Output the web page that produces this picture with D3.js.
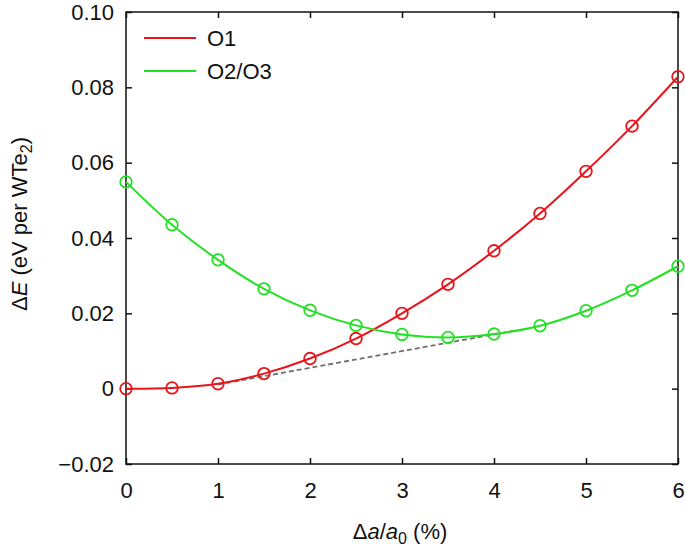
<!DOCTYPE html>
<html>
<head>
<meta charset="utf-8">
<script src="https://cdn.jsdelivr.net/npm/d3@7"></script>
<style>
  html, body { margin: 0; padding: 0; background: #fff; overflow: hidden; }
  svg { display: block; }
  text { font-family: "Liberation Sans", Arial, sans-serif; fill: #111; }
</style>
</head>
<body>
<svg></svg>
<script>
const strain = [0, 0.5, 1, 1.5, 2, 2.5, 3, 3.5, 4, 4.5, 5, 5.5, 6];
const o1 = [0.0000, 0.0002, 0.0013, 0.0040, 0.0080, 0.0133, 0.0200, 0.0277, 0.0366, 0.0465, 0.0577, 0.0697, 0.0828];
const o23 = [0.0549, 0.0435, 0.0342, 0.0265, 0.0208, 0.0168, 0.0144, 0.0136, 0.0145, 0.0167, 0.0207, 0.0261, 0.0325];
// common tangent (dashed)
const tangentX = [1, 4.2];
const tangentY = [0.0011, 0.0153];

const xTicks = [0, 1, 2, 3, 4, 5, 6];
const yTicks = [-0.02, 0, 0.02, 0.04, 0.06, 0.08, 0.10];
const yTickLabels = ['\u22120.02', '0', '0.02', '0.04', '0.06', '0.08', '0.10'];

const width = 685, height = 551;
const margin = {top: 12, right: 7, bottom: 87, left: 126};
const innerWidth = width - margin.left - margin.right;
const innerHeight = height - margin.top - margin.bottom;
const fontSize = '22px';

const svg = d3.select('svg')
  .attr('width', width)
  .attr('height', height);

const xScale = d3.scaleLinear().domain([0, 6]).range([0, innerWidth]);
const yScale = d3.scaleLinear().domain([-0.02, 0.10]).range([innerHeight, 0]);

const g = svg.append('g')
  .attr('transform', `translate(${margin.left}, ${margin.top})`);

// axes: ticks inward, mirrored on top/right (no labels there)
const tick = 6;
g.append('g')
  .attr('transform', `translate(0, ${innerHeight})`)
  .call(d3.axisBottom(xScale).tickValues(xTicks).tickSize(-tick).tickPadding(18).tickFormat(d3.format('d')))
  .call(a => a.select('.domain').remove());
g.append('g')
  .call(d3.axisTop(xScale).tickValues(xTicks).tickSize(-tick))
  .call(a => a.select('.domain').remove())
  .call(a => a.selectAll('text').remove());
g.append('g')
  .call(d3.axisLeft(yScale).tickValues(yTicks).tickSize(-tick).tickPadding(12)
    .tickFormat((d, i) => yTickLabels[i]))
  .call(a => a.select('.domain').remove());
g.append('g')
  .attr('transform', `translate(${innerWidth}, 0)`)
  .call(d3.axisRight(yScale).tickValues(yTicks).tickSize(-tick))
  .call(a => a.select('.domain').remove())
  .call(a => a.selectAll('text').remove());

g.selectAll('.tick line').attr('stroke', '#111').attr('stroke-width', 1.5);
g.selectAll('.tick text')
  .style('font-family', '"Liberation Sans", Arial, sans-serif')
  .style('font-size', fontSize)
  .attr('fill', '#111');

g.append('rect')
  .attr('width', innerWidth)
  .attr('height', innerHeight)
  .attr('fill', 'none')
  .attr('stroke', '#111')
  .attr('stroke-width', 1.5);

// dashed tangent
g.append('line')
  .attr('x1', xScale(tangentX[0])).attr('y1', yScale(tangentY[0]))
  .attr('x2', xScale(tangentX[1])).attr('y2', yScale(tangentY[1]))
  .attr('stroke', '#6e6e6e')
  .attr('stroke-width', 1.8)
  .attr('stroke-dasharray', '5,3');

const series = [
  {name: 'O1', values: o1, color: '#e8141a'},
  {name: 'O2/O3', values: o23, color: '#22e022'}
];

const line = d3.line()
  .x((d, i) => xScale(strain[i]))
  .y(d => yScale(d))
  .curve(d3.curveCatmullRom);

series.forEach(s => {
  g.append('path')
    .datum(s.values)
    .attr('d', line)
    .attr('fill', 'none')
    .attr('stroke', s.color)
    .attr('stroke-width', 2);

  g.selectAll(null).data(s.values)
    .enter().append('circle')
    .attr('cx', (d, i) => xScale(strain[i]))
    .attr('cy', d => yScale(d))
    .attr('r', 5.8)
    .attr('fill', 'none')
    .attr('stroke', s.color)
    .attr('stroke-width', 1.8);
});

// legend
const legend = g.append('g').attr('transform', 'translate(18, 26)');
series.forEach((s, i) => {
  const row = legend.append('g').attr('transform', `translate(0, ${i * 33})`);
  row.append('line')
    .attr('x1', 0).attr('x2', 52)
    .attr('stroke', s.color).attr('stroke-width', 2);
  row.append('text')
    .attr('x', 63).attr('y', 8)
    .style('font-size', fontSize)
    .text(s.name);
});

// axis titles
const xt = svg.append('text')
  .attr('x', margin.left + innerWidth / 2 - 2)
  .attr('y', 539)
  .attr('text-anchor', 'middle')
  .style('font-size', fontSize);
xt.append('tspan').text('\u0394');
xt.append('tspan').style('font-style', 'italic').text('a');
xt.append('tspan').text('/');
xt.append('tspan').style('font-style', 'italic').text('a');
xt.append('tspan').attr('dy', 5).style('font-size', '16px').text('0');
xt.append('tspan').attr('dy', -5).text(' (%)');

const yt = svg.append('text')
  .attr('transform', `translate(27, 224) rotate(-90)`)
  .attr('text-anchor', 'middle')
  .style('font-size', fontSize);
yt.append('tspan').text('\u0394');
yt.append('tspan').style('font-style', 'italic').text('E');
yt.append('tspan').text(' (eV per WTe');
yt.append('tspan').attr('dy', 5).style('font-size', '16px').text('2');
yt.append('tspan').attr('dy', -5).text(')');
</script>
</body>
</html>
